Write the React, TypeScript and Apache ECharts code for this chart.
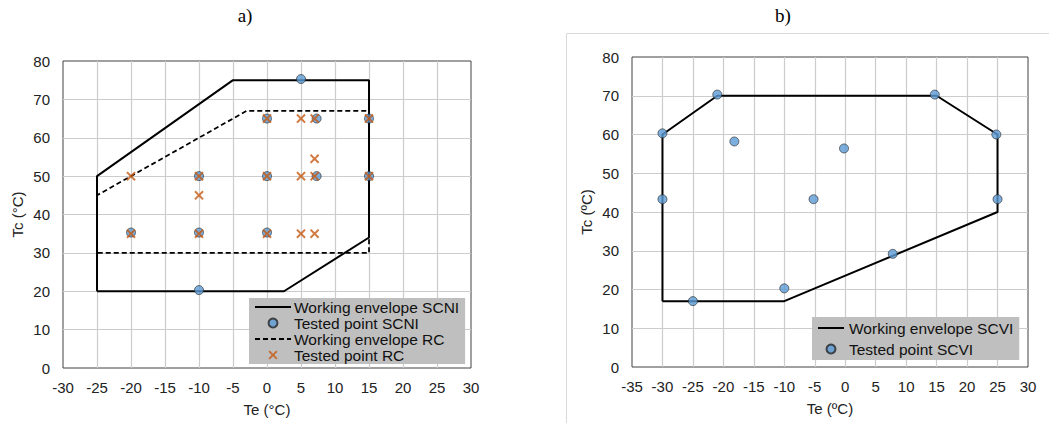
import React, { useEffect, useRef } from "react";
import * as echarts from "echarts";

// ---- Data ----
const xTicksA = [-30, 30, 5];
const yTicks = [0, 80, 10];
const xTicksB = [-35, 30, 5];

const envelopeSCNI = [[-25, 20], [-25, 50], [-5, 75], [15, 75], [15, 34], [2.5, 20], [-25, 20]];
const envelopeRC = [[-25, 30], [-25, 45], [-3, 67], [15, 67], [15, 30], [-25, 30]];
const testedSCNI = [[5, 75.3], [0, 65], [7.3, 65], [15, 65], [-10, 50], [0, 50], [7.3, 50], [15, 50], [-20, 35.3], [-10, 35.3], [0, 35.3], [-10, 20.3]];
const testedRC = [[-20, 50], [-10, 50], [-10, 45], [0, 65], [5, 65], [7, 65], [15, 65], [0, 50], [5, 50], [7, 50], [15, 50], [7, 54.5], [-20, 35], [-10, 35], [0, 35], [5, 35], [7, 35]];

const envelopeSCVI = [[-30, 17], [-30, 60], [-21, 70], [15, 70], [25, 60], [25, 40], [-10, 17], [-30, 17]];
const testedSCVI = [[-21, 70.3], [14.7, 70.3], [-30, 60.3], [24.8, 60], [-18.2, 58.2], [-0.2, 56.4], [-30, 43.3], [-5.2, 43.3], [25, 43.3], [7.8, 29.2], [-10, 20.3], [-25, 17]];

const namesA = ["Working envelope SCNI", "Tested point SCNI", "Working envelope RC", "Tested point RC"];
const namesB = ["Working envelope SCVI", "Tested point SCVI"];

const FONT = "Liberation Sans";
const BLUE = "#5b9bd5";
const ORANGE = "#c65911";
const XPATH = "path://M0,1.5 L1.5,0 L5,3.5 L8.5,0 L10,1.5 L6.5,5 L10,8.5 L8.5,10 L5,6.5 L1.5,10 L0,8.5 L3.5,5 Z";
const DASH = [5, 3];

function xAxis(gridIndex: number, t: number[], name: string) {
  return {
    type: "value",
    gridIndex,
    min: t[0],
    max: t[1],
    interval: t[2],
    name,
    nameLocation: "middle",
    nameGap: 34,
    nameTextStyle: { fontFamily: FONT, fontSize: 15, color: "#222" },
    axisLine: { show: false },
    axisTick: { show: false },
    axisLabel: { fontFamily: FONT, fontSize: 15, color: "#222", margin: 12 },
    splitLine: { show: true, showMinLine: false, showMaxLine: false, lineStyle: { color: "#cccccc", width: 1.2 } },
  };
}
function yAxis(gridIndex: number, name: string) {
  return {
    type: "value",
    gridIndex,
    min: yTicks[0],
    max: yTicks[1],
    interval: yTicks[2],
    name,
    nameLocation: "middle",
    nameGap: 38,
    nameTextStyle: { fontFamily: FONT, fontSize: 15, color: "#222" },
    axisLine: { show: false },
    axisTick: { show: false },
    axisLabel: { fontFamily: FONT, fontSize: 15, color: "#222", margin: 13 },
    splitLine: { show: true, showMinLine: false, showMaxLine: false, lineStyle: { color: "#cccccc", width: 1.2 } },
  };
}

export default function App() {
  const ref = useRef<HTMLDivElement>(null);
  useEffect(() => {
    if (!ref.current) return;
    const chart = echarts.init(ref.current, undefined, { renderer: "svg" });
    const circleStyle = { color: BLUE, borderColor: "#262626", borderWidth: 0.8 };
    const noSym = { opacity: 0 };
    chart.setOption({
      animation: false,
      backgroundColor: "#ffffff",
      grid: [
        { left: 63, top: 61, width: 408, height: 307, show: true, borderColor: "#404040", borderWidth: 1, backgroundColor: "transparent" },
        { left: 632, top: 57, width: 396, height: 310, show: true, borderColor: "#404040", borderWidth: 1, backgroundColor: "transparent" },
      ],
      xAxis: [xAxis(0, xTicksA, "Te (°C)"), xAxis(1, xTicksB, "Te (ºC)")],
      yAxis: [yAxis(0, "Tc (°C)"), yAxis(1, "Tc (ºC)")],
      legend: [
        {
          data: [
            { name: namesA[0], itemStyle: noSym, lineStyle: { color: "#000", width: 2, type: "solid" } },
            { name: namesA[1] },
            { name: namesA[2], itemStyle: noSym, lineStyle: { color: "#000", width: 2, type: DASH } },
            { name: namesA[3] },
          ],
          orient: "vertical",
          left: 249,
          top: 298,
          backgroundColor: "#bfbfbf",
          borderRadius: 0,
          padding: [1, 6, 1, 5],
          itemGap: 0,
          itemWidth: 36,
          itemHeight: 9,
          textStyle: { fontFamily: FONT, fontSize: 15.5, color: "#111", padding: [0, 0, 0, -2] },
        },
        {
          data: [{ name: namesB[0], itemStyle: noSym, lineStyle: { color: "#000", width: 2, type: "solid" } }, { name: namesB[1] }],
          orient: "vertical",
          left: 812,
          top: 317,
          backgroundColor: "#bfbfbf",
          borderRadius: 0,
          padding: [3, 6, 3, 5],
          itemGap: 5,
          itemWidth: 26,
          itemHeight: 9,
          textStyle: { fontFamily: FONT, fontSize: 15.5, color: "#111", padding: [0, 0, 0, 0] },
        },
      ],
      graphic: [
        { type: "rect", shape: { x: 566.5, y: 33.5, width: 600, height: 500 }, style: { fill: "none", stroke: "#d9d9d9", lineWidth: 1 }, z: -10 },
        { type: "text", x: 245, y: 15, style: { text: "a)", fontFamily: "Liberation Serif", fontSize: 19, fill: "#000", align: "center", verticalAlign: "middle" } },
        { type: "text", x: 783, y: 15, style: { text: "b)", fontFamily: "Liberation Serif", fontSize: 19, fill: "#000", align: "center", verticalAlign: "middle" } },
      ],
      series: [
        {
          name: namesA[0], type: "line", xAxisIndex: 0, yAxisIndex: 0, data: envelopeSCNI,
          symbol: "none", lineStyle: { color: "#000", width: 2 }, itemStyle: { color: "#000" }, z: 2,
        },
        {
          name: namesA[2], type: "line", xAxisIndex: 0, yAxisIndex: 0, data: envelopeRC,
          symbol: "none", lineStyle: { color: "#000", width: 1.75, type: DASH }, itemStyle: { color: "#000" }, z: 2,
        },
        {
          name: namesA[1], type: "scatter", xAxisIndex: 0, yAxisIndex: 0, data: testedSCNI,
          symbol: "circle", symbolSize: 9, itemStyle: circleStyle, z: 3,
        },
        {
          name: namesA[3], type: "scatter", xAxisIndex: 0, yAxisIndex: 0, data: testedRC,
          symbol: XPATH, symbolSize: 9.5, itemStyle: { color: ORANGE }, z: 4,
        },
        {
          name: namesB[0], type: "line", xAxisIndex: 1, yAxisIndex: 1, data: envelopeSCVI,
          symbol: "none", lineStyle: { color: "#000", width: 2 }, itemStyle: { color: "#000" }, z: 2,
        },
        {
          name: namesB[1], type: "scatter", xAxisIndex: 1, yAxisIndex: 1, data: testedSCVI,
          symbol: "circle", symbolSize: 9, itemStyle: circleStyle, z: 3,
        },
      ],
    });
    return () => chart.dispose();
  }, []);
  return <div ref={ref} style={{ position: "absolute", left: 0, top: 0, width: 1049, height: 423 }} />;
}
